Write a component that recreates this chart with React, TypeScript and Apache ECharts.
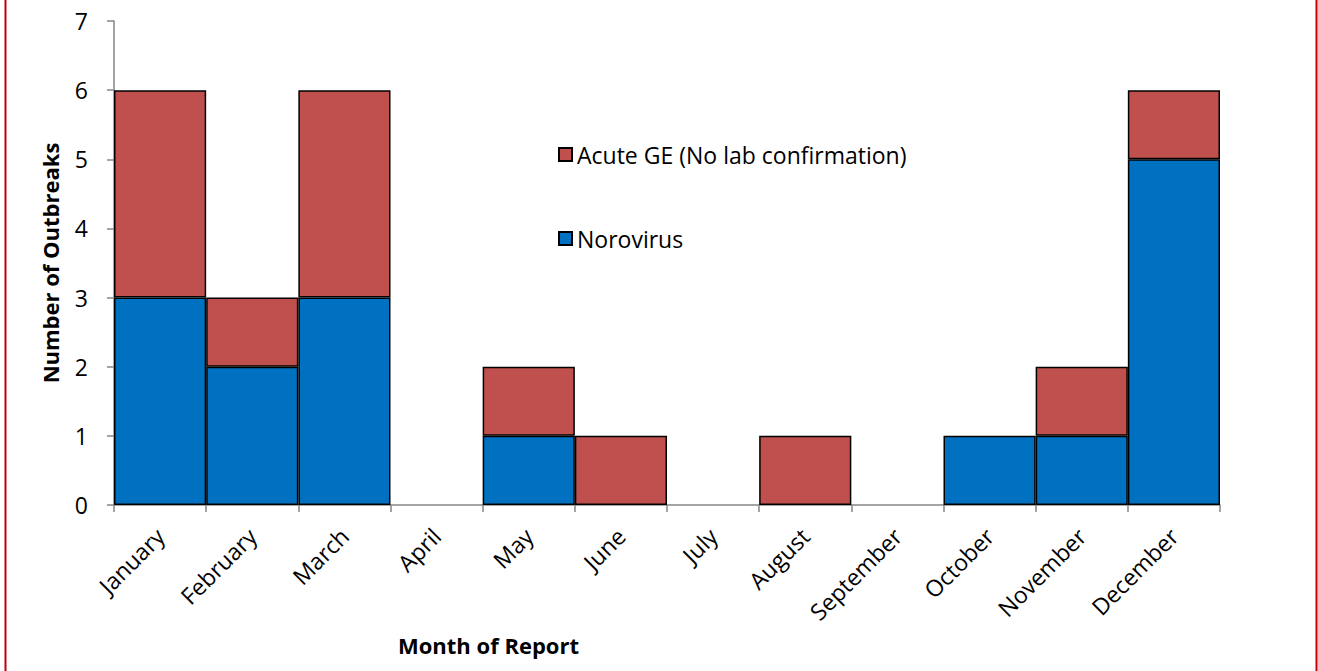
import React, { useEffect, useRef } from "react";
import * as echarts from "echarts";

const months = ["January", "February", "March", "April", "May", "June", "July", "August", "September", "October", "November", "December"];
const norovirus = [3, 2, 3, 0, 1, 0, 0, 0, 0, 1, 1, 5];
const acuteGE = [3, 1, 3, 0, 1, 1, 0, 1, 0, 0, 1, 1];
const yTicks = [0, 1, 2, 3, 4, 5, 6, 7];

const FONT = "'Open Sans', 'Noto Sans', sans-serif";

export default function App() {
  const ref = useRef<HTMLDivElement>(null);
  useEffect(() => {
    const chart = echarts.init(ref.current!, undefined, { renderer: "svg" });
    const toData = (arr: number[]) => arr.map((v) => (v === 0 ? "-" : v));
    chart.setOption({
      animation: false,
      backgroundColor: "#fff",
      textStyle: { fontFamily: FONT },
      grid: { left: 114, right: 98, top: 21, bottom: 166, containLabel: false },
      legend: {
        data: ["Acute GE (No lab confirmation)", "Norovirus"],
        orient: "vertical",
        left: 553,
        top: 138,
        itemGap: 61,
        itemWidth: 13,
        itemHeight: 13,
        icon: "rect",
        textStyle: { fontFamily: FONT, fontSize: 23, color: "#000" },
      },
      xAxis: {
        type: "category",
        data: months,
        boundaryGap: true,
        axisLine: { lineStyle: { color: "#868686", width: 1.5 } },
        axisTick: { show: true, length: 7, lineStyle: { color: "#868686", width: 1.5 } },
        axisLabel: { rotate: 45, interval: 0, margin: 27, fontSize: 23, color: "#000", fontFamily: FONT },
      },
      yAxis: {
        type: "value",
        min: yTicks[0],
        max: yTicks[yTicks.length - 1],
        interval: 1,
        name: "Number of Outbreaks",
        nameLocation: "middle",
        nameGap: 53,
        nameTextStyle: { fontSize: 22, fontWeight: "bold", color: "#000", fontFamily: FONT },
        splitLine: { show: false },
        axisLine: { show: true, lineStyle: { color: "#868686", width: 1.5 } },
        axisTick: { show: true, length: 7, lineStyle: { color: "#868686", width: 1.5 } },
        axisLabel: { fontSize: 23, color: "#000", margin: 26, fontFamily: FONT },
      },
      series: [
        {
          name: "Norovirus",
          type: "bar",
          stack: "total",
          barCategoryGap: "0%",
          data: toData(norovirus),
          itemStyle: { color: "#0070C0", borderColor: "#000", borderWidth: 1.5 },
        },
        {
          name: "Acute GE (No lab confirmation)",
          type: "bar",
          stack: "total",
          barCategoryGap: "0%",
          data: toData(acuteGE),
          itemStyle: { color: "#C0504D", borderColor: "#000", borderWidth: 1.5 },
        },
      ],
      graphic: [
        {
          type: "text",
          left: 398,
          top: 634,
          style: { text: "Month of Report", fontSize: 22, fontWeight: "bold", fill: "#000", fontFamily: FONT },
        },
        { type: "line", shape: { x1: 5.5, y1: 0, x2: 5.5, y2: 671 }, style: { stroke: "#C00000", lineWidth: 2 } },
        { type: "line", shape: { x1: 1316.5, y1: 0, x2: 1316.5, y2: 671 }, style: { stroke: "#C00000", lineWidth: 2 } },
      ],
    });
    return () => chart.dispose();
  }, []);
  return <div ref={ref} style={{ position: "absolute", left: 0, top: 0, width: 1318, height: 671 }} />;
}
